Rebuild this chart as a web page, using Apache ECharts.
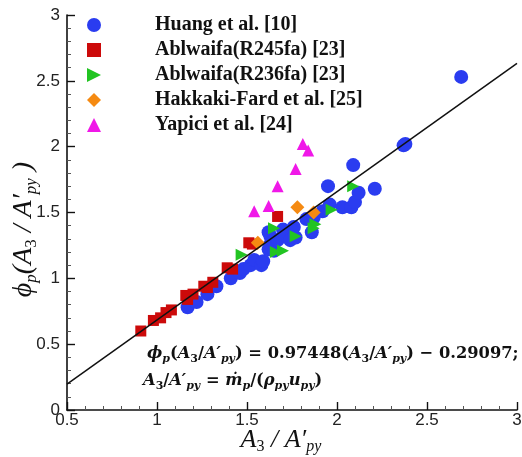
<!DOCTYPE html>
<html><head><meta charset="utf-8">
<script src="https://cdn.jsdelivr.net/npm/echarts@6/dist/echarts.min.js"></script>
<style>html,body{margin:0;padding:0;background:#fff}#c{width:522px;height:457px}</style>
</head><body><div id="c"></div>
<script>
var seriesNames = ['Huang et al. [10]', 'Ablwaifa(R245fa) [23]', 'Ablwaifa(R236fa) [23]', 'Hakkaki-Fard et al. [25]', 'Yapici et al. [24]'];
var huang = [[1.17,0.78],[1.22,0.82],[1.28,0.88],[1.33,0.94],[1.41,1.00],[1.46,1.04],[1.48,1.07],[1.52,1.10],[1.54,1.14],[1.58,1.10],[1.59,1.13],[1.62,1.22],[1.65,1.21],[1.63,1.26],[1.62,1.35],[1.63,1.32],[1.67,1.29],[1.70,1.37],[1.71,1.33],[1.74,1.29],[1.76,1.39],[1.77,1.31],[1.83,1.45],[1.87,1.46],[1.86,1.35],[1.92,1.51],[1.96,1.56],[2.03,1.54],[2.08,1.54],[2.10,1.58],[2.12,1.65],[2.21,1.68],[1.95,1.70],[2.09,1.86],[2.37,2.01],[2.38,2.02],[2.69,2.53]];
var ablR245 = [[0.91,0.60],[0.98,0.68],[1.02,0.70],[1.05,0.74],[1.08,0.76],[1.16,0.87],[1.17,0.84],[1.20,0.88],[1.26,0.94],[1.28,0.93],[1.31,0.97],[1.39,1.08],[1.42,1.07],[1.51,1.27],[1.53,1.26],[1.67,1.47]];
var ablR236 = [[1.47,1.18],[1.65,1.38],[1.66,1.20],[1.70,1.21],[1.77,1.32],[1.88,1.41],[1.87,1.38],[1.97,1.52],[2.09,1.70]];
var hakkaki = [[1.56,1.27],[1.78,1.54],[1.87,1.50]];
var yapici = [[1.54,1.51],[1.62,1.55],[1.67,1.70],[1.77,1.83],[1.81,2.02],[1.84,1.97]];
var fitSlope = 0.97448, fitIntercept = -0.29097;
var fitX = [0.5, 3];

var fitData = fitX.map(function(x){ return [x, fitSlope * x + fitIntercept]; });
var chart = echarts.init(document.getElementById('c'));
var serif = 'Liberation Serif';
var lbl = {fontFamily:'Liberation Sans', fontSize:17, color:'#222'};
function ax(min, max, isX) {
  return {
    type:'value', min:min, max:max, interval:0.5,
    nameMoveOverlap:false,
    axisLine:{show:true, onZero:false, lineStyle:{color:'#111', width:1.6}},
    axisTick:{show:true, inside:true, length:8, lineStyle:{color:'#111', width:1.4}},
    minorTick:{show:true, splitNumber:5, length:4, lineStyle:{color:'#555', width:1}},
    splitLine:{show:false},
    axisLabel:Object.assign({margin: isX ? 2 : 7, formatter:function(v){return String(v);}}, lbl)
  };
}
var xA = ax(0.5, 3, true);
xA.name = '{i|A}{s|3}{n| / }{i|A′}{si|py}';
xA.nameLocation = 'middle';
xA.nameGap = 16;
xA.nameTextStyle = {padding:[0,22,0,0], rich:{
  i:{fontFamily:serif, fontStyle:'italic', fontSize:26, color:'#111', lineHeight:29},
  n:{fontFamily:serif, fontStyle:'italic', fontSize:26, color:'#111', lineHeight:29},
  s:{fontFamily:serif, fontSize:16, color:'#111', lineHeight:29, verticalAlign:'bottom'},
  si:{fontFamily:serif, fontStyle:'italic', fontSize:16, color:'#111', lineHeight:29, verticalAlign:'bottom'}
}};
var yA = ax(0, 3, false);
yA.name = '{i|ϕ}{si|p}{n|(}{i|A}{s|3}{n| / }{i|A′}{si|py}{n| )}';
yA.nameLocation = 'middle';
yA.nameRotate = 90;
yA.nameGap = 27;
yA.nameTextStyle = {padding:[0,34,0,0], rich:{
  i:{fontFamily:serif, fontStyle:'italic', fontSize:28, color:'#111', lineHeight:33},
  n:{fontFamily:serif, fontStyle:'italic', fontSize:28, color:'#111', lineHeight:33},
  s:{fontFamily:serif, fontSize:17, color:'#111', lineHeight:33, verticalAlign:'bottom'},
  si:{fontFamily:serif, fontStyle:'italic', fontSize:17, color:'#111', lineHeight:33, verticalAlign:'bottom'}
}};

var eqFont = 'DejaVu Serif';
var eqRich = {
  i:{fontFamily:eqFont, fontStyle:'italic', fontWeight:'bold', fontSize:16.3, fill:'#111', lineHeight:21},
  n:{fontFamily:eqFont, fontWeight:'bold', fontSize:16.3, fill:'#111', lineHeight:21},
  s:{fontFamily:eqFont, fontWeight:'bold', fontSize:11, fill:'#111', lineHeight:21, verticalAlign:'bottom'},
  si:{fontFamily:eqFont, fontStyle:'italic', fontWeight:'bold', fontSize:11, fill:'#111', lineHeight:21, verticalAlign:'bottom'}
};

chart.setOption({
  animation:false,
  backgroundColor:'#fff',
  grid:{left:67, right:5, top:15, bottom:47, containLabel:false, outerBoundsMode:'none'},
  xAxis:xA,
  yAxis:yA,
  legend:{
    orient:'vertical', left:82, top:10, itemWidth:14, itemHeight:14, itemGap:5,
    data:seriesNames,
    textStyle:{fontFamily:serif, fontWeight:'bold', fontSize:20, lineHeight:20, color:'#111', padding:[0,0,0,49]}
  },
  graphic:[
    {type:'text', left:147, top:346, z:100, style:{
      text:'{i|ϕ}{si|p}{n|(}{i|A}{s|3}{n|/}{i|A′}{si|py}{n|) = 0.97448(}{i|A}{s|3}{n|/}{i|A′}{si|py}{n|) − 0.29097;}',
      rich:eqRich}},
    {type:'text', left:143, top:373, z:100, style:{
      text:'{i|A}{s|3}{n|/}{i|A′}{si|py}{n| = }{i|ṁ}{si|p}{n|/(}{i|ρ}{si|py}{i|u}{si|py}{n|)}',
      rich:eqRich}}
  ],
  series:[
    {name:seriesNames[0], type:'scatter', data:huang, symbol:'circle', symbolSize:14, itemStyle:{color:'#2a3cf0', opacity:1}, z:2},
    {name:seriesNames[1], type:'scatter', data:ablR245, symbol:'rect', symbolSize:11, itemStyle:{color:'#cc0a0a', opacity:1}, z:3},
    {name:seriesNames[2], type:'scatter', data:ablR236, symbol:'path://M0,0 L10,5 L0,10 Z', symbolSize:12, itemStyle:{color:'#22c422', opacity:1}, z:4},
    {name:seriesNames[3], type:'scatter', data:hakkaki, symbol:'diamond', symbolSize:14, itemStyle:{color:'#f58a12', opacity:1}, z:5},
    {name:seriesNames[4], type:'scatter', data:yapici, symbol:'triangle', symbolSize:12, itemStyle:{color:'#f018e8', opacity:1}, z:6},
    {name:'fit', type:'line', data:fitData, symbol:'none', lineStyle:{color:'#111', width:1.5}, z:10, silent:true}
  ]
});
</script></body></html>
